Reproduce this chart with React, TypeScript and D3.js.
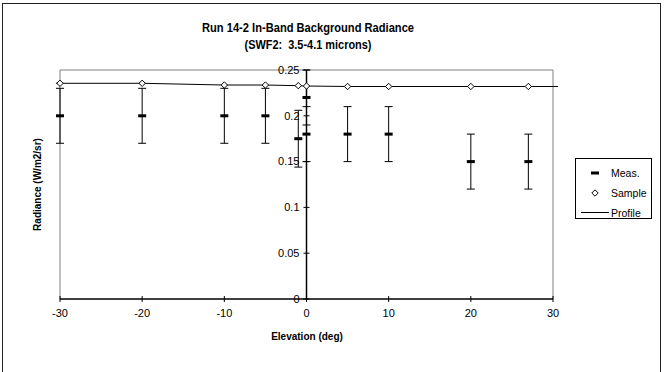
import React from "react";
import * as d3 from "d3";

const measElev = [-30, -20, -10, -5, -1, 0, 0, 5, 10, 20, 27];
const measValue = [0.2, 0.2, 0.2, 0.2, 0.175, 0.22, 0.18, 0.18, 0.18, 0.15, 0.15];
const measErr = [0.03, 0.03, 0.03, 0.03, 0.031, 0.03, 0.03, 0.03, 0.03, 0.03, 0.03];

const sampleElev = [-30, -20, -10, -5, -1, 0, 5, 10, 20, 27];
const sampleValue = [0.2355, 0.2355, 0.2336, 0.2336, 0.2329, 0.2325, 0.232, 0.232, 0.232, 0.232];

const profileElev = [-30.5, -20, -10, -5, -1, 0, 5, 10, 20, 27, 30.6];
const profileValue = [0.2355, 0.2355, 0.2336, 0.2336, 0.2329, 0.2325, 0.232, 0.232, 0.232, 0.232, 0.232];

const xTicks = [-30, -20, -10, 0, 10, 20, 30];
const yTicks = [0, 0.05, 0.1, 0.15, 0.2, 0.25];
const yTickLabels = ["0", "0.05", "0.1", "0.15", "0.2", "0.25"];

const titleLines = ["Run 14-2 In-Band Background Radiance", "(SWF2:  3.5-4.1 microns)"];
const titleWidths = [212, 127];
const legendLabels = ["Meas.", "Sample", "Profile"];

const W = 665;
const H = 372;
const font = "'Liberation Sans', Arial, sans-serif";

export default function App() {
  const x = d3.scaleLinear().domain([-30, 30]).range([60, 553]);
  const y = d3.scaleLinear().domain([0, 0.25]).range([299, 70]);
  const x0 = x(0);
  const y0 = y(0);

  const profileLine = d3
    .line<number>()
    .x((_, i) => x(profileElev[i]))
    .y((v) => y(v))(profileValue) as string;

  const diamond = (cx: number, cy: number, r: number) =>
    `M${cx},${cy - r}L${cx + r},${cy}L${cx},${cy + r}L${cx - r},${cy}Z`;

  return (
    <svg
      width={W}
      height={H}
      style={{ position: "absolute", left: 0, top: 0, background: "#fff" }}
      fontFamily={font}
    >
      <rect x={0} y={0} width={W} height={H} fill="#fff" />
      {/* outer chart border */}
      <rect x={2.5} y={3.5} width={658} height={380} fill="none" stroke="#222" strokeWidth={1} />

      {/* title */}
      {titleLines.map((t, i) => (
        <text
          key={i}
          x={308}
          y={31.5 + i * 17}
          textAnchor="middle"
          fontSize={12}
          fontWeight="bold"
          fill="#000"
          style={{ whiteSpace: "pre" }}
          textLength={titleWidths[i]}
          lengthAdjust="spacingAndGlyphs"
        >
          {t}
        </text>
      ))}

      {/* plot area border */}
      <path
        d={`M${x(-30)},${y0}V${y(0.25)}H${x(30)}V${y0}`}
        fill="none"
        stroke="#808080"
        strokeWidth={1}
      />

      {/* x axis */}
      <line x1={x(-30)} x2={x(30)} y1={y0} y2={y0} stroke="#000" strokeWidth={1.5} />
      {xTicks.map((t) => (
        <g key={t}>
          <line x1={x(t)} x2={x(t)} y1={y0 - 3} y2={y0 + 3} stroke="#000" strokeWidth={1} />
          <text x={x(t)} y={317} textAnchor="middle" fontSize={11} fill="#000">
            {t}
          </text>
        </g>
      ))}

      {/* y axis */}
      <line x1={x0} x2={x0} y1={y0} y2={y(0.25)} stroke="#000" strokeWidth={1.5} />
      {yTicks.map((t, i) => (
        <g key={t}>
          <line x1={x0 - 3} x2={x0 + 3} y1={y(t)} y2={y(t)} stroke="#000" strokeWidth={1} />
          <text x={x0 - 7} y={y(t)} dy="0.35em" textAnchor="end" fontSize={11} fill="#000">
            {yTickLabels[i]}
          </text>
        </g>
      ))}

      {/* axis titles */}
      <text x={307} y={340} textAnchor="middle" fontSize={10} fontWeight="bold" fill="#000">
        Elevation (deg)
      </text>
      <text
        transform={`translate(41,${(y0 + y(0.25)) / 2}) rotate(-90)`}
        textAnchor="middle"
        fontSize={10}
        fontWeight="bold"
        fill="#000"
      >
        Radiance (W/m2/sr)
      </text>

      {/* profile line */}
      <path d={profileLine} fill="none" stroke="#000" strokeWidth={1} />

      {/* measurements with error bars */}
      {measElev.map((e, i) => {
        const cx = x(e);
        const top = y(measValue[i] + measErr[i]);
        const bot = y(measValue[i] - measErr[i]);
        return (
          <g key={i}>
            <line x1={cx} x2={cx} y1={top} y2={bot} stroke="#000" strokeWidth={1} />
            <line x1={cx - 4} x2={cx + 4} y1={top} y2={top} stroke="#000" strokeWidth={1} />
            <line x1={cx - 4} x2={cx + 4} y1={bot} y2={bot} stroke="#000" strokeWidth={1} />
            <rect x={cx - 4} y={y(measValue[i]) - 1.5} width={8} height={3} fill="#000" />
          </g>
        );
      })}

      {/* sample diamonds */}
      {sampleElev.map((e, i) => (
        <path
          key={i}
          d={diamond(x(e), y(sampleValue[i]), 3.2)}
          fill="#fff"
          stroke="#000"
          strokeWidth={1}
        />
      ))}

      {/* legend */}
      <rect x={575.5} y={158.5} width={76} height={60} fill="#fff" stroke="#000" strokeWidth={1} />
      <rect x={591} y={171.5} width={8} height={3} fill="#000" />
      <path d={diamond(595, 193, 3.2)} fill="#fff" stroke="#000" strokeWidth={1} />
      <line x1={581} x2={609} y1={212.5} y2={212.5} stroke="#000" strokeWidth={1} />
      {legendLabels.map((l, i) => (
        <text key={l} x={611} y={176.5 + i * 20} fontSize={10.5} fill="#000">
          {l}
        </text>
      ))}
    </svg>
  );
}
